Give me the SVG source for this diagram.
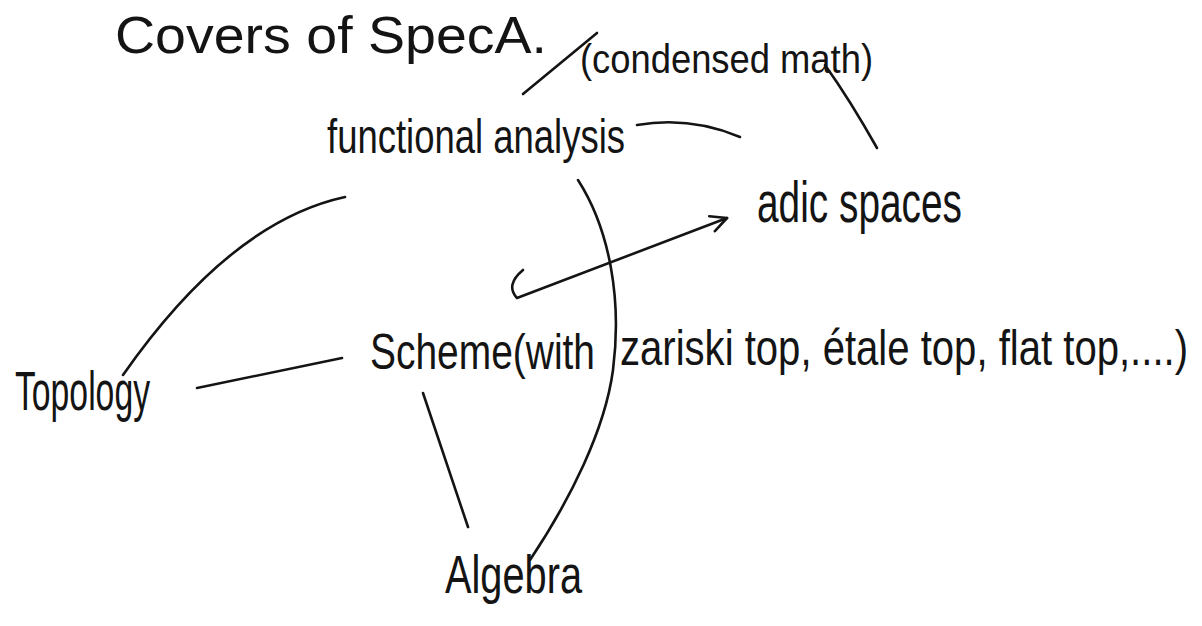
<svg xmlns="http://www.w3.org/2000/svg" width="1202" height="626" viewBox="0 0 1202 626">
<style>
.lbl{font-family:"Liberation Sans","DejaVu Sans",sans-serif;fill:#141414;}
.ln{fill:none;stroke:#141414;stroke-width:2.6;stroke-linecap:round;stroke-linejoin:round;}
</style>
<defs>
<marker id="arr" viewBox="0 0 20 20" refX="18" refY="10" markerWidth="20" markerHeight="20" markerUnits="userSpaceOnUse" orient="auto">
<path d="M2,2 L18,10 L2,18" fill="none" stroke="#141414" stroke-width="2.6" stroke-linecap="round" stroke-linejoin="round"/>
</marker>
</defs>
<rect width="1202" height="626" fill="#ffffff"/>
<g id="connectors">
<path class="ln" d="M523,94 L597,33"/>
<path class="ln" d="M825,65 Q850,100 877,148"/>
<path class="ln" d="M637,125 Q690,116 740,137"/>
<path class="ln" d="M123,375 Q230,222 345,197"/>
<path class="ln" d="M197,388 L342,358"/>
<path class="ln" d="M523,270 Q505,285 517,298 L727,218" marker-end="url(#arr)"/>
<path class="ln" d="M578,180 C610,230 622,300 613,370 C605,430 570,500 530,560"/>
<path class="ln" d="M423,393 L468,527"/>
</g>
<g id="title">
<text class="lbl" x="115" y="53" font-size="52" textLength="432" lengthAdjust="spacingAndGlyphs">Covers of SpecA.</text>
</g>
<g id="condensed-math">
<text class="lbl" x="580" y="73" font-size="40" textLength="293" lengthAdjust="spacingAndGlyphs">(condensed math)</text>
</g>
<g id="functional-analysis">
<text class="lbl" x="327" y="153" font-size="48" textLength="298" lengthAdjust="spacingAndGlyphs">functional analysis</text>
</g>
<g id="adic-spaces">
<text class="lbl" x="757" y="222" font-size="58" textLength="205" lengthAdjust="spacingAndGlyphs">adic spaces</text>
</g>
<g id="topology">
<text class="lbl" x="15" y="410" font-size="56" textLength="135" lengthAdjust="spacingAndGlyphs">Topology</text>
</g>
<g id="scheme">
<text class="lbl" transform="translate(370,369) scale(1,1.28)" x="0" y="0" font-size="39" textLength="225" lengthAdjust="spacingAndGlyphs">Scheme(with</text>
<text class="lbl" transform="translate(620,365) scale(1,1.25)" x="0" y="0" font-size="40" textLength="568" lengthAdjust="spacingAndGlyphs">zariski top, étale top, flat top,....)</text>
</g>
<g id="algebra">
<text class="lbl" x="445" y="593" font-size="54" textLength="137" lengthAdjust="spacingAndGlyphs">Algebra</text>
</g>
</svg>
